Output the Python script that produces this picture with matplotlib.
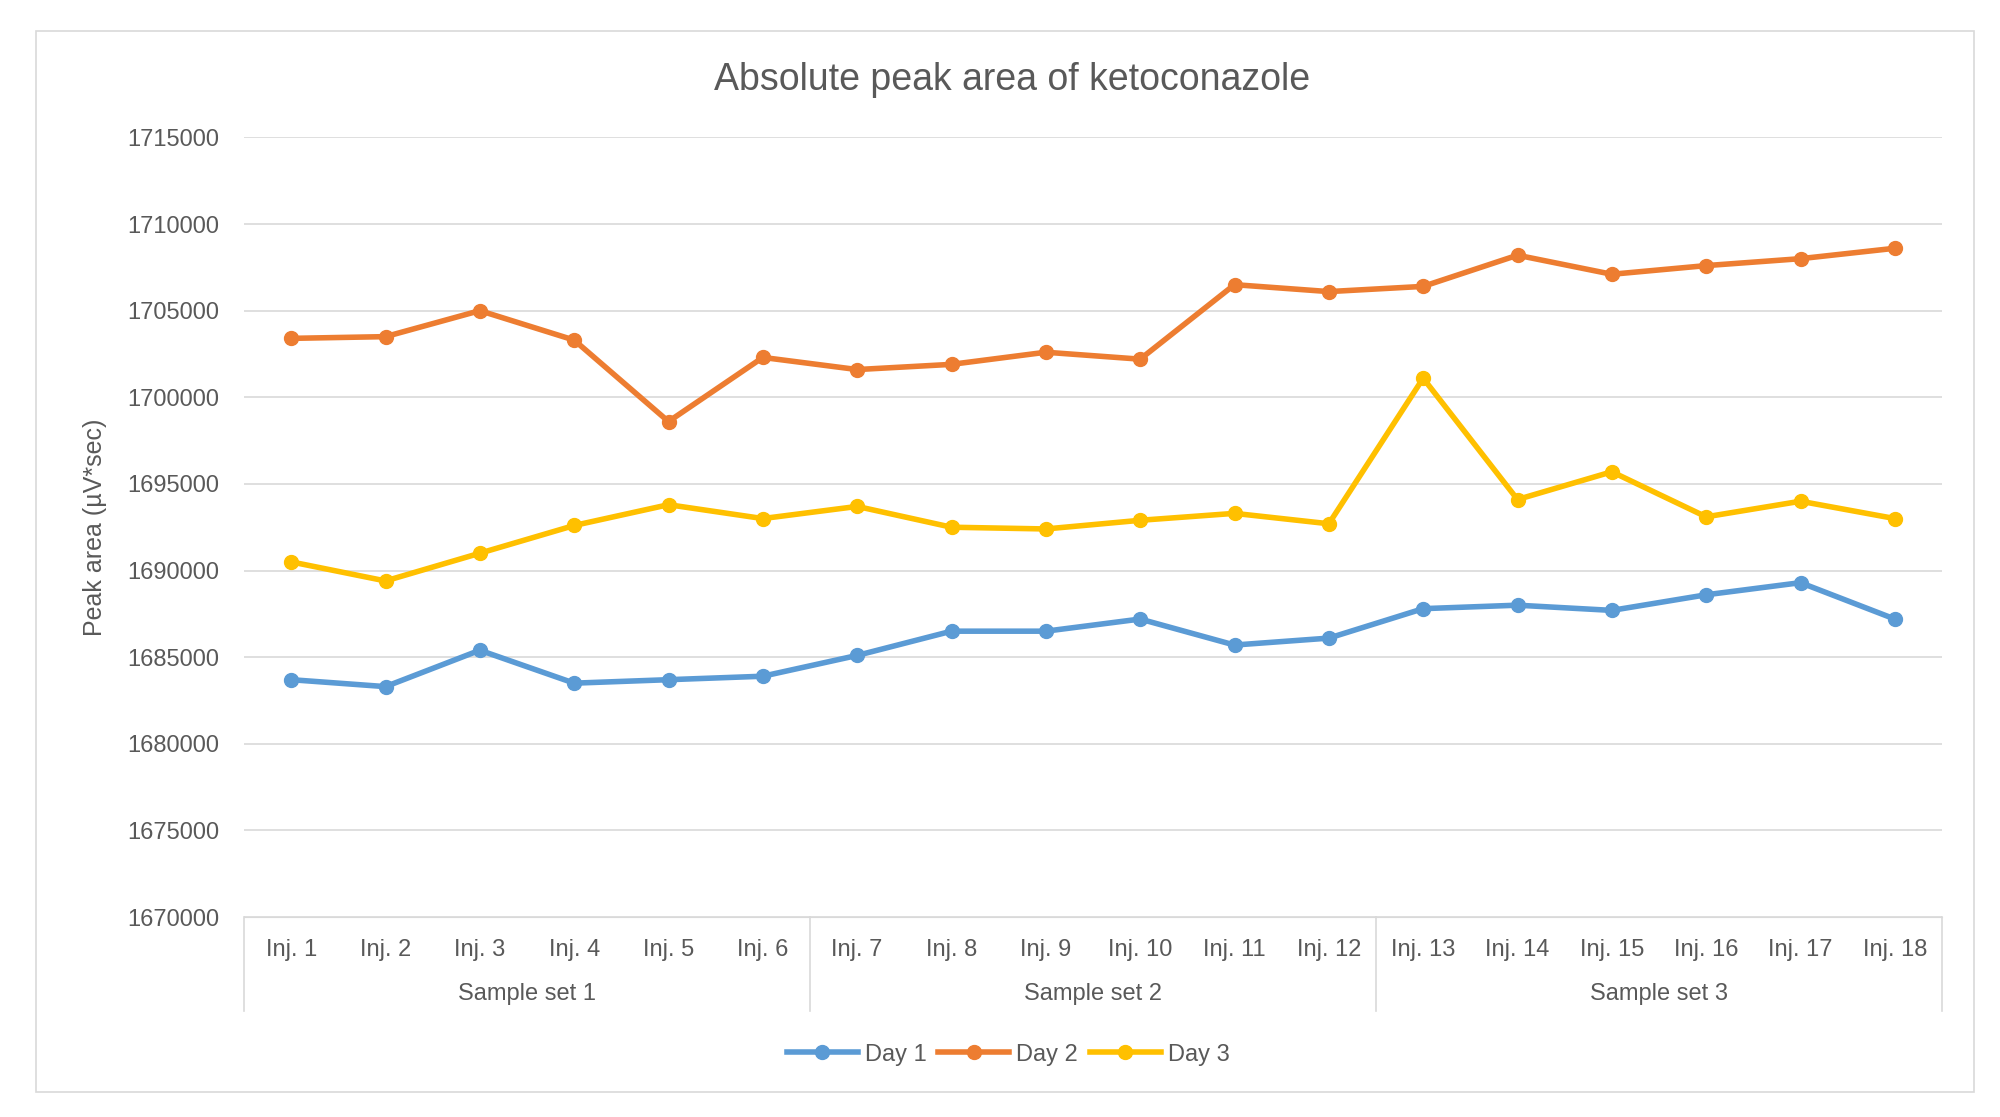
import matplotlib
matplotlib.use("Agg")
import matplotlib.pyplot as plt
from matplotlib.patches import Rectangle
from matplotlib.lines import Line2D

categories = [f"Inj. {i}" for i in range(1, 19)]
groups = ["Sample set 1", "Sample set 2", "Sample set 3"]
day1 = [1683700, 1683300, 1685400, 1683500, 1683700, 1683900, 1685100, 1686500, 1686500,
        1687200, 1685700, 1686100, 1687800, 1688000, 1687700, 1688600, 1689300, 1687200]
day2 = [1703400, 1703500, 1705000, 1703300, 1698600, 1702300, 1701600, 1701900, 1702600,
        1702200, 1706500, 1706100, 1706400, 1708200, 1707100, 1707600, 1708000, 1708600]
day3 = [1690500, 1689400, 1691000, 1692600, 1693800, 1693000, 1693700, 1692500, 1692400,
        1692900, 1693300, 1692700, 1701100, 1694100, 1695700, 1693100, 1694000, 1693000]
yticks = list(range(1670000, 1715001, 5000))

plt.rcParams["font.family"] = "Liberation Sans"
fig = plt.figure(figsize=(20, 11.17), dpi=100)
fig.patches.append(Rectangle((0.018, 0.022), 0.969, 0.95, transform=fig.transFigure,
                             fill=False, edgecolor="#d9d9d9", lw=1.2))
ax = fig.add_axes([0.122, 0.179, 0.849, 0.698])
x = list(range(len(categories)))
for vals, c, lab in [(day1, "#5b9bd5", "Day 1"), (day2, "#ed7d31", "Day 2"), (day3, "#ffc000", "Day 3")]:
    ax.plot(x, vals, color=c, lw=4, marker="o", ms=10, label=lab)
ax.set_xlim(-0.5, 17.5)
ax.set_ylim(1670000, 1715000)
ax.set_yticks(yticks)
ax.set_yticklabels([str(v) for v in yticks], fontsize=17, color="#595959")
ax.grid(axis="y", color="#d9d9d9", lw=1.2)
ax.set_axisbelow(True)
for s in ["top", "right", "left"]:
    ax.spines[s].set_visible(False)
ax.spines["bottom"].set_color("#d9d9d9")
ax.tick_params(axis="y", length=0, pad=18)
ax.set_xticks(x)
ax.set_xticklabels(categories, fontsize=17, color="#595959")
ax.tick_params(axis="x", length=0, pad=16)
ax.set_ylabel("Peak area (µV*sec)", fontsize=18, color="#595959", labelpad=14)
fig.text(0.506, 0.928, "Absolute peak area of ketoconazole", fontsize=27, color="#595959",
         ha="center", va="center")

tr = ax.get_xaxis_transform()
for b in [-0.5, 5.5, 11.5, 17.5]:
    ax.add_line(Line2D([b, b], [0, -0.12], transform=tr, color="#d9d9d9", lw=1.2, clip_on=False))
for i, g in enumerate(groups):
    ax.text(2.5 + 6 * i, -0.099, g, transform=tr, ha="center", va="center", fontsize=17, color="#595959")

ax.legend(loc="upper center", bbox_to_anchor=(0.45, -0.135), ncol=3, frameon=False,
          fontsize=17, labelcolor="#595959", handlelength=3, columnspacing=0.5, handletextpad=0.3)
fig.savefig("out.png", dpi=100)
